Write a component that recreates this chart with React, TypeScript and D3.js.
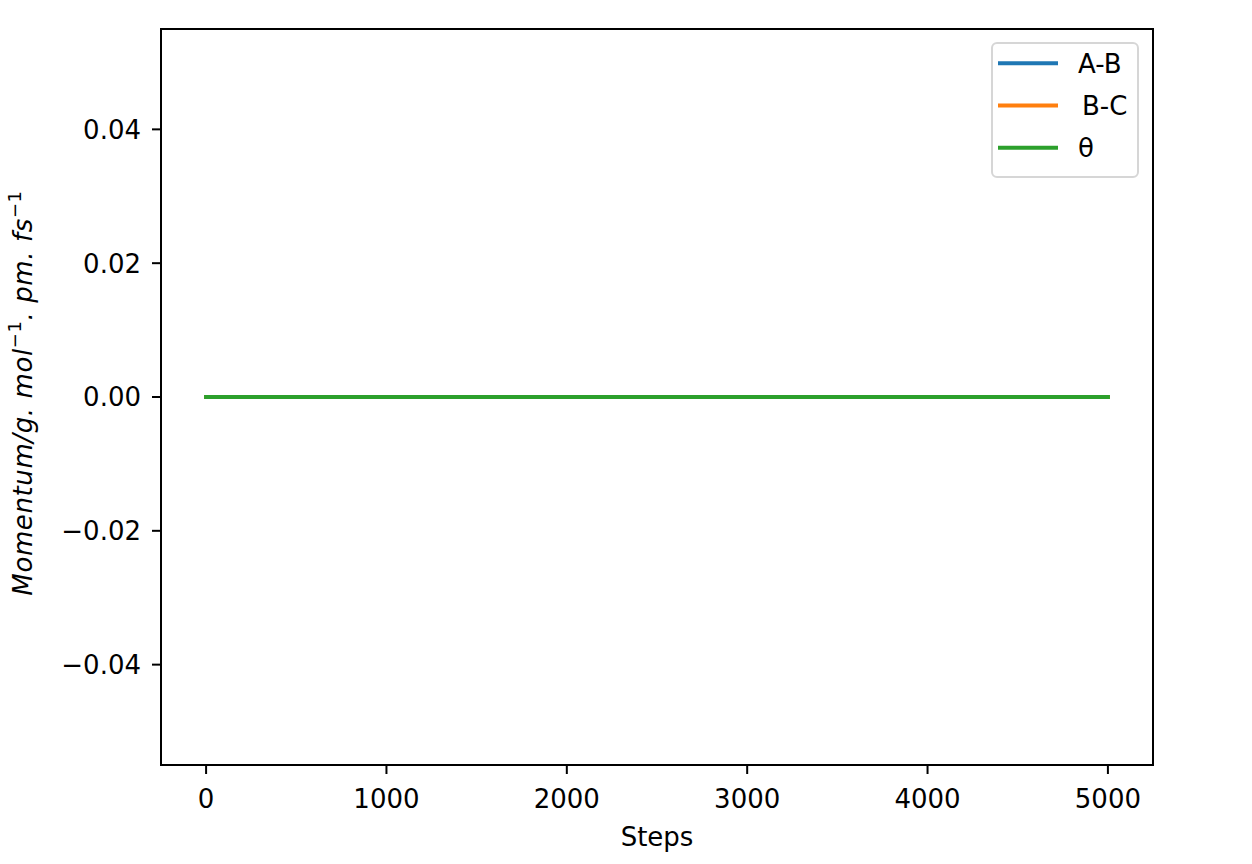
import { useEffect, useRef } from 'react';
import * as d3 from 'd3';

const steps = [0, 1000, 2000, 3000, 4000, 5000];
const abValues = [0, 0, 0, 0, 0, 0];
const bcValues = [0, 0, 0, 0, 0, 0];
const thetaValues = [0, 0, 0, 0, 0, 0];
const seriesNames = ['A-B', 'B-C', 'θ'];
const seriesColors = ['#1f77b4', '#ff7f0e', '#2ca02c'];
const xTicks = [0, 1000, 2000, 3000, 4000, 5000];
const yTicks = [-0.04, -0.02, 0, 0.02, 0.04];

export default function App() {
  const svgRef = useRef<SVGSVGElement>(null);

  useEffect(() => {
    if (!svgRef.current) return;
    const svg = d3.select(svgRef.current);
    svg.selectAll('*').remove();

    const left = 161, right = 1153, top = 29, bottom = 765;
    const font = 'DejaVu Sans, sans-serif';
    const fs = 26;

    const x = d3.scaleLinear().domain([-250, 5250]).range([left, right]);
    const y = d3.scaleLinear().domain([-0.055, 0.055]).range([bottom, top]);

    const series = [abValues, bcValues, thetaValues];
    const line = d3.line<number>()
      .x((_, i) => x(steps[i]))
      .y(d => y(d));

    series.forEach((vals, k) => {
      svg.append('path')
        .datum(vals)
        .attr('fill', 'none')
        .attr('stroke', seriesColors[k])
        .attr('stroke-width', 4)
        .attr('stroke-linecap', 'square')
        .attr('d', line);
    });

    // frame
    svg.append('rect')
      .attr('x', left).attr('y', top)
      .attr('width', right - left).attr('height', bottom - top)
      .attr('fill', 'none').attr('stroke', '#000').attr('stroke-width', 2);

    // x ticks
    const gx = svg.append('g');
    xTicks.forEach(t => {
      gx.append('line')
        .attr('x1', x(t)).attr('x2', x(t))
        .attr('y1', bottom).attr('y2', bottom + 9)
        .attr('stroke', '#000').attr('stroke-width', 2);
      gx.append('text')
        .attr('x', x(t)).attr('y', 808)
        .attr('text-anchor', 'middle')
        .attr('font-family', font).attr('font-size', fs)
        .attr('fill', '#000')
        .text(String(t));
    });

    // y ticks
    const gy = svg.append('g');
    yTicks.forEach(t => {
      gy.append('line')
        .attr('x1', left - 9).attr('x2', left)
        .attr('y1', y(t)).attr('y2', y(t))
        .attr('stroke', '#000').attr('stroke-width', 2);
      gy.append('text')
        .attr('x', 141).attr('y', y(t))
        .attr('dy', '0.36em')
        .attr('text-anchor', 'end')
        .attr('font-family', font).attr('font-size', fs)
        .attr('fill', '#000')
        .text(t === 0 ? '0.00' : d3.format('.2f')(t).replace('-', '−'));
    });

    // x label
    svg.append('text')
      .attr('x', 657).attr('y', 846)
      .attr('text-anchor', 'middle')
      .attr('font-family', font).attr('font-size', fs)
      .attr('fill', '#000')
      .text('Steps');

    // y label (mathtext style)
    const yl = svg.append('text')
      .attr('transform', `translate(32, 393) rotate(-90)`)
      .attr('text-anchor', 'middle')
      .attr('font-family', font).attr('font-size', fs)
      .attr('font-style', 'italic')
      .attr('letter-spacing', 0.6)
      .attr('fill', '#000');
    yl.append('tspan').text('Momentum/g. mol');
    yl.append('tspan').attr('dy', -11).attr('font-size', 18).attr('font-style', 'normal').text('−1');
    yl.append('tspan').attr('dy', 11).text('. pm. fs');
    yl.append('tspan').attr('dy', -11).attr('font-size', 18).attr('font-style', 'normal').text('−1');

    // legend
    const lg = svg.append('g');
    lg.append('rect')
      .attr('x', 992).attr('y', 43).attr('width', 146).attr('height', 134)
      .attr('rx', 5)
      .attr('fill', '#fff').attr('fill-opacity', 0.8)
      .attr('stroke', '#d6d6d6').attr('stroke-width', 2);
    seriesNames.forEach((name, k) => {
      const ly = 63.3 + k * 42.2;
      lg.append('line')
        .attr('x1', 998).attr('x2', 1058)
        .attr('y1', ly).attr('y2', ly)
        .attr('stroke', seriesColors[k]).attr('stroke-width', 4);
      lg.append('text')
        .attr('x', k === 1 ? 1082 : 1078).attr('y', ly)
        .attr('dy', '0.36em')
        .attr('font-family', font).attr('font-size', fs)
        .attr('fill', '#000')
        .text(name);
    });
  }, []);

  return (
    <svg
      ref={svgRef}
      width={1252}
      height={864}
      style={{ position: 'fixed', left: 0, top: 0, display: 'block', background: '#fff' }}
    />
  );
}
